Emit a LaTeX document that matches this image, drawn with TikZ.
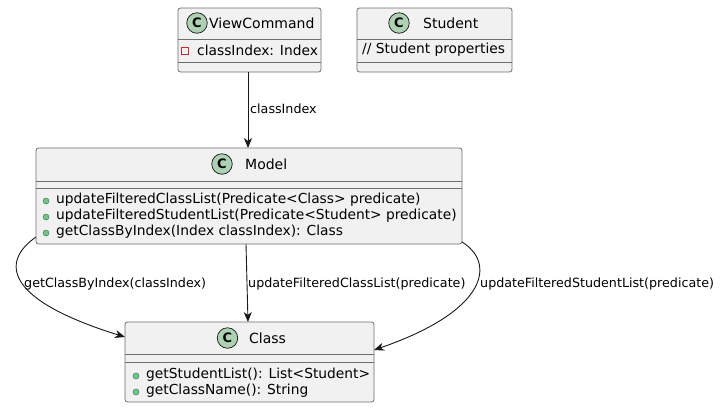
\documentclass[tikz,border=0pt]{standalone}
\usepackage{fontspec}
\setmainfont{DejaVu Sans}
\usetikzlibrary{arrows.meta}
\definecolor{boxfill}{HTML}{F1F1F1}
\definecolor{boxline}{HTML}{6E6E6E}
\definecolor{arrline}{HTML}{181818}
\definecolor{spotfill}{HTML}{ADD1B2}
\definecolor{pubfill}{HTML}{84BE84}
\definecolor{publine}{HTML}{038048}
\definecolor{privline}{HTML}{C82930}
\begin{document}
\begin{tikzpicture}[x=1pt,y=-1pt,
 box/.style={draw=boxline, fill=boxfill, line width=0.8pt, rounded corners=2.5pt, anchor=north west, inner sep=0, outer sep=0},
 sepline/.style={draw=boxline, line width=0.8pt},
 spot/.style={circle, draw=arrline, line width=0.7pt, fill=spotfill, minimum size=20.5pt, inner sep=0, font=\fontsize{13}{13}\selectfont\bfseries},
 title/.style={anchor=west, inner sep=0, font=\fontsize{14}{16}\selectfont},
 member/.style={anchor=west, inner sep=0, font=\fontsize{13.8}{15}\selectfont},
 pub/.style={circle, draw=publine, fill=pubfill, line width=0.4pt, minimum size=6pt, inner sep=0},
 priv/.style={rectangle, draw=privline, line width=0.8pt, minimum size=6.5pt, inner sep=0},
 elabel/.style={anchor=west, inner sep=0, font=\fontsize{12.7}{15}\selectfont},
 conn/.style={draw=arrline, line width=0.9pt, -{Stealth[length=10pt, width=8pt, inset=3pt]}}
]
\useasboundingbox (0,0) rectangle (720,408);
\fill[white] (0,0) rectangle (720,408);

% ViewCommand
\node[box, minimum width=143pt, minimum height=64pt] (vc) at (178,8) {};
\draw[sepline] ([yshift=-31pt]vc.north west) -- ([yshift=-31pt]vc.north east);
\draw[sepline] ([yshift=-54pt]vc.north west) -- ([yshift=-54pt]vc.north east);
\node[spot] (vcs) at (197,23) {C};
\node[title] (vct) at (209,23) {ViewCommand};
\node[priv] (vcp) at (185,51) {};
\node[member] (vca) at (197,50) {classIndex: Index};

% Student
\node[box, minimum width=155pt, minimum height=64pt] (st) at (357,8) {};
\draw[sepline] ([yshift=-31pt]st.north west) -- ([yshift=-31pt]st.north east);
\draw[sepline] ([yshift=-54pt]st.north west) -- ([yshift=-54pt]st.north east);
\node[spot] (sts) at (399,23) {C};
\node[title] (stt) at (423,23) {Student};
\node[member] (sta) at (362,50) {// Student properties};

% Model
\node[box, minimum width=426pt, minimum height=96pt] (model) at (36,148) {};
\draw[sepline] ([yshift=-33pt]model.north west) -- ([yshift=-33pt]model.north east);
\draw[sepline] ([yshift=-40pt]model.north west) -- ([yshift=-40pt]model.north east);
\node[spot] (ms) at (222,164) {C};
\node[title] (mt) at (245,164) {Model};
\node[pub] (mp1) at (46,201) {};
\node[member] (mm1) at (56,200) {updateFilteredClassList(Predicate<Class> predicate)};
\node[pub] (mp2) at (46,217) {};
\node[member] (mm2) at (56,216) {updateFilteredStudentList(Predicate<Student> predicate)};
\node[pub] (mp3) at (46,233) {};
\node[member] (mm3) at (56,232) {getClassByIndex(Index classIndex): Class};

% Class
\node[box, minimum width=249pt, minimum height=80pt] (cls) at (125,322) {};
\draw[sepline] ([yshift=-32pt]cls.north west) -- ([yshift=-32pt]cls.north east);
\draw[sepline] ([yshift=-40pt]cls.north west) -- ([yshift=-40pt]cls.north east);
\node[spot] (cs) at (227.5,338) {C};
\node[title] (ct) at (249,338) {Class};
\node[pub] (cp1) at (136,376) {};
\node[member] (cm1) at (146,375) {getStudentList(): List<Student>};
\node[pub] (cp2) at (136,392) {};
\node[member] (cm2) at (146,391) {getClassName(): String};

% connectors
\draw[conn] ([xshift=-1.5pt]vc.south) -- ([xshift=-1pt]model.north);
\node[elabel] (l0) at (250,109) {classIndex};

\draw[conn] ([yshift=7pt]model.south west) .. controls (0,262) and (5,300) .. ([yshift=-15pt]cls.north west);
\node[elabel] (l1) at (24,284) {getClassByIndex(classIndex)};

\draw[conn] ([xshift=-3pt]model.south) -- ([xshift=-1.5pt]cls.north);
\node[elabel] (l2) at (248,284) {updateFilteredClassList(predicate)};

\draw[conn] ([yshift=2pt]model.south east) .. controls (495,262) and (490,310) .. ([yshift=-28pt]cls.north east);
\node[elabel] (l3) at (480,284) {updateFilteredStudentList(predicate)};
\end{tikzpicture}
\end{document}
